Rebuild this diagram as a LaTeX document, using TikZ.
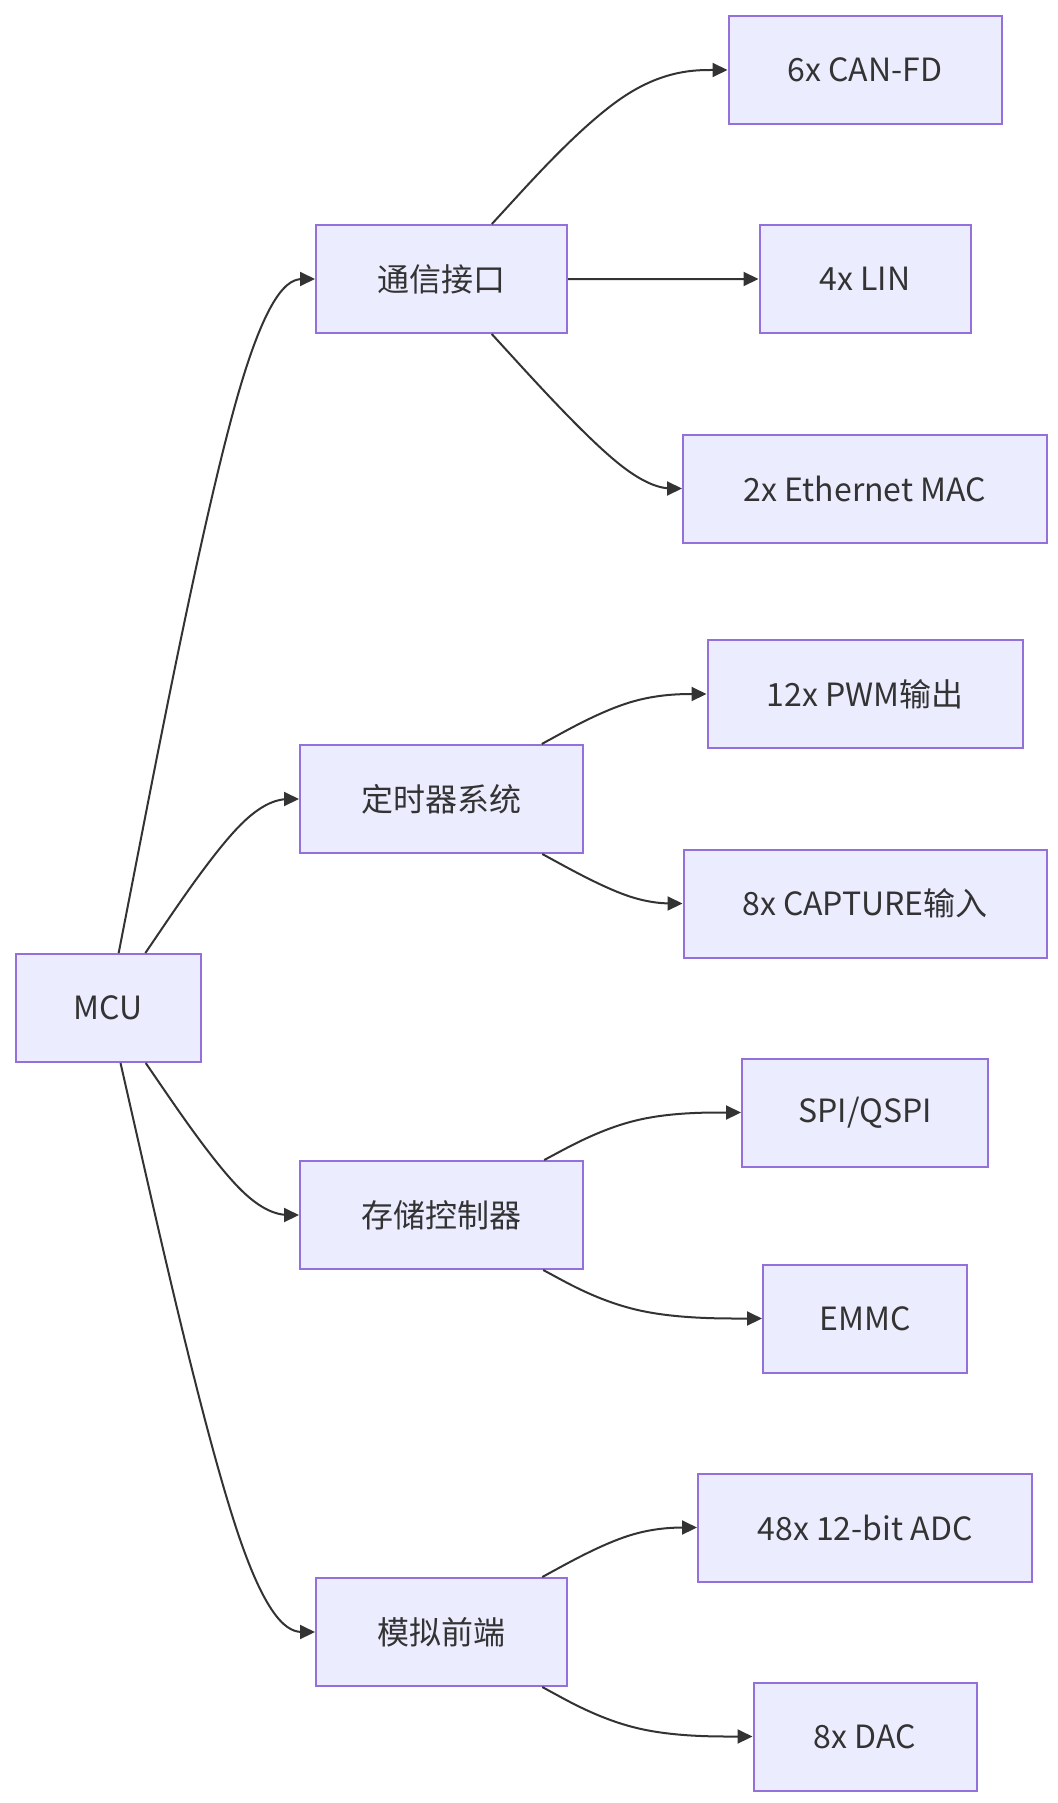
\documentclass[tikz,border=0pt]{standalone}
\usepackage{fontspec}
\setmainfont{Noto Sans CJK SC}
\usetikzlibrary{arrows.meta,calc}
\definecolor{nodefill}{HTML}{ECECFF}
\definecolor{nodeline}{HTML}{9370DB}
\definecolor{edgecol}{HTML}{333333}
\definecolor{txtcol}{HTML}{333333}
\tikzset{
  box/.style={draw=nodeline, fill=nodefill, line width=1pt, minimum height=54pt,
    inner sep=0pt, text=txtcol, font=\fontsize{16}{19}\selectfont, minimum width=#1*0.5pt},
  edge/.style={draw=edgecol, line width=1pt, -{Triangle[length=7.5pt,width=7pt]}}
}
\newcommand\basisedge[3]{%
  \path (#1) -- coordinate[pos=0] (bs) (#2);
  \path (#2) -- coordinate[pos=1] (be) (#3);
  \coordinate (ba) at ($(bs)!1/6!(#2)$);
  \coordinate (bb) at ($(bs)!1/3!(#2)$);
  \coordinate (bc) at ($(bs)!2/3!(#2)$);
  \coordinate (bd) at ($(#2)!1/3!(be)$);
  \coordinate (bm) at ($(bc)!0.5!(bd)$);
  \coordinate (bf) at ($(#2)!2/3!(be)$);
  \coordinate (bg) at ($(#2)!5/6!(be)$);
  \draw[edge] (bs) -- (ba) .. controls (bb) and (bc) .. (bm) .. controls (bd) and (bf) .. (bg) -- (be);
}
\begin{document}
\begin{tikzpicture}[x=0.5pt,y=-0.5pt]
\useasboundingbox (0,0) rectangle (1057,1803);
\node[box=185] (mcu) at (108,1008) {MCU};
\node[box=251] (t1) at (441.5,279) {通信接口};
\node[box=283] (t2) at (441.5,799) {定时器系统};
\node[box=283] (t3) at (441.5,1215) {存储控制器};
\node[box=251] (t4) at (441.5,1632) {模拟前端};
\node[box=273] (c1) at (865,70) {6x CAN-FD};
\node[box=211] (c2) at (865,279) {4x LIN};
\node[box=364] (c3) at (865,488.5) {2x Ethernet MAC};
\node[box=315] (d1) at (865,694) {12x PWM输出};
\node[box=363] (d2) at (865,903.5) {8x CAPTURE输入};
\node[box=246] (e1) at (865,1112.5) {SPI/QSPI};
\node[box=204] (e2) at (865,1318.5) {EMMC};
\node[box=334] (f1) at (865,1527.5) {48x 12-bit ADC};
\node[box=223] (f2) at (865,1736.5) {8x DAC};
% corner coordinates
\coordinate (k1) at (250,279);
\coordinate (k2) at (250,799);
\coordinate (k3) at (250,1215);
\coordinate (k4) at (250,1632);
\coordinate (kc1) at (633,70);
\coordinate (kc2) at (633,279);
\coordinate (kc3) at (633,488.5);
\coordinate (kd1) at (633,694);
\coordinate (kd2) at (633,903.5);
\coordinate (ke1) at (633,1112.5);
\coordinate (ke2) at (633,1318.5);
\coordinate (kf1) at (633,1527.5);
\coordinate (kf2) at (633,1736.5);
\basisedge{mcu}{k1}{t1}
\basisedge{mcu}{k2}{t2}
\basisedge{mcu}{k3}{t3}
\basisedge{mcu}{k4}{t4}
\basisedge{t1}{kc1}{c1}
\basisedge{t1}{kc2}{c2}
\basisedge{t1}{kc3}{c3}
\basisedge{t2}{kd1}{d1}
\basisedge{t2}{kd2}{d2}
\basisedge{t3}{ke1}{e1}
\basisedge{t3}{ke2}{e2}
\basisedge{t4}{kf1}{f1}
\basisedge{t4}{kf2}{f2}
\end{tikzpicture}
\end{document}
